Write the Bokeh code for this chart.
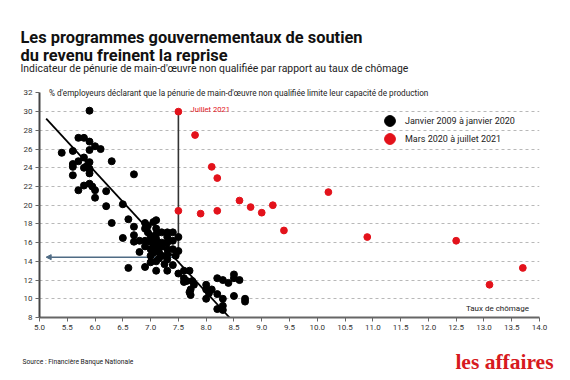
from bokeh.plotting import figure
from bokeh.layouts import column
from bokeh.models import Label, Arrow, NormalHead, FixedTicker, Legend, LegendItem
from bokeh.core.properties import value
from bokeh.embed import file_html
from bokeh.resources import INLINE

# ---- data ----
pre_x = [5.9, 5.4, 5.6, 5.7, 5.8, 5.9, 6.0, 6.1, 5.9, 5.6, 5.6, 5.7, 5.8, 5.85, 5.9, 5.8, 5.9,
         5.6, 5.9, 6.3, 6.7, 5.7, 5.8, 5.9, 6.0, 6.0, 5.95, 6.2, 6.2, 6.5, 6.3, 6.6, 6.5, 6.7,
         6.7, 6.7, 6.8, 6.8, 6.6, 6.9,
         6.9, 6.95, 7.05, 7.1, 6.9, 6.95, 7.0, 6.9, 7.0, 7.1, 7.1, 7.1, 7.1, 7.0, 7.1, 7.05, 7.15,
         7.0, 6.9, 7.05, 7.2, 7.2, 7.3, 7.4, 7.3, 7.3, 7.4, 7.2, 7.3, 7.4, 7.3, 7.2, 7.15, 7.3,
         7.4, 7.3, 7.5, 7.5, 7.0, 7.1, 7.1, 7.25, 7.45,
         7.5, 7.6, 7.7, 7.6, 7.65, 7.75, 7.78, 7.72, 7.72, 7.7, 7.6,
         8.0, 8.0, 8.0, 8.1, 8.05, 8.2, 8.3, 8.2, 8.3, 8.2, 8.3, 8.3, 8.4, 8.5, 8.5, 8.6, 8.7,
         8.7, 8.5]
pre_y = [30.1, 25.6, 25.8, 27.2, 27.2, 26.8, 26.3, 26.0, 25.9, 24.4, 24.1, 24.7, 25.1, 24.2, 24.6, 24.0, 23.9,
         23.2, 23.4, 24.7, 23.3, 21.6, 22.1, 22.3, 21.6, 20.8, 22.0, 21.5, 19.9, 20.1, 18.1, 18.5, 16.5, 17.7,
         16.8, 16.1, 16.2, 15.0, 13.3, 13.4,
         18.1, 17.8, 18.2, 18.4, 17.5, 17.1, 16.7, 16.2, 16.1, 17.5, 16.9, 16.4, 15.8, 15.3, 15.3, 14.9, 15.0,
         14.6, 15.6, 15.8, 16.0, 17.1, 17.1, 17.1, 16.6, 16.0, 16.2, 15.6, 15.3, 15.3, 14.7, 14.6, 14.3, 14.2,
         13.6, 13.0, 16.6, 15.1, 13.9, 14.0, 13.0, 13.7, 14.6,
         12.7, 13.0, 13.0, 11.8, 11.9, 11.9, 11.5, 11.0, 10.4, 10.7, 12.2,
         11.5, 11.0, 10.0, 11.0, 10.6, 12.2, 12.0, 10.5, 10.0, 8.9, 9.25, 8.8, 11.7, 12.6, 10.3, 12.0, 10.0,
         9.7, 12.2]

post_x = [7.5, 7.8, 8.1, 8.2, 7.5, 7.9, 8.2, 8.6, 8.8, 9.0, 9.2, 9.4, 10.2, 10.9, 12.5, 13.1, 13.7]
post_y = [30.0, 27.5, 24.1, 22.9, 19.4, 19.1, 19.4, 20.5, 19.8, 19.2, 20.0, 17.3, 21.4, 16.6, 16.2, 11.5, 13.3]

trend_x = [5.12, 8.42]
trend_y = [29.25, 8.0]

july_x = [7.5, 7.5]
july_y = [30.0, 14.45]
arrow_from = (7.5, 14.45)
arrow_to = (5.12, 14.45)

x_ticks = [5.0, 5.5, 6.0, 6.5, 7.0, 7.5, 8.0, 8.5, 9.0, 9.5, 10.0, 10.5, 11.0, 11.5, 12.0, 12.5,
           13.0, 13.5, 14.0]
x_tick_labels = ["5.0", "5.5", "6.0", "6.5", "7.0", "7.5", "8.0", "8.5", "9.0", "9.5", "10.0", "10.5",
                 "11.0", "11.5", "12.0", "12.5", "13.0", "13.5", "14.0"]
y_ticks = [8, 10, 12, 14, 16, 18, 20, 22, 24, 26, 28, 30, 32]
grid_ticks = [10, 12, 14, 16, 18, 20, 22, 24, 26, 28, 30]

series_names = ["Janvier 2009 à janvier 2020", "Mars 2020 à juillet 2021"]

title_lines = ["Les programmes gouvernementaux de soutien", "du revenu freinent la reprise"]
subtitle = "Indicateur de pénurie de main-d'œuvre non qualifiée par rapport au taux de chômage"
y_title = "% d'employeurs déclarant que la pénurie de main-d'œuvre non qualifiée limite leur capacité de production"
x_title = "Taux de chômage"
source = "Source : Financière Banque Nationale"
logo = "les affaires"

BLACK = "#000000"
RED = "#e3121b"
FONT = "Roboto"
W = 570

def blank(height):
    f = figure(width=W, height=height, x_range=(0, W), y_range=(height, 0),
               x_axis_type=None, y_axis_type=None, output_backend="svg", toolbar_location=None,
               min_border=0)
    f.outline_line_color = None
    f.grid.visible = False
    f.background_fill_color = "white"
    f.border_fill_color = "white"
    return f

# ---- header ----
header = blank(84)
header.text(x=[20, 20], y=[37.3, 55.0], text=title_lines, text_font=value(FONT),
            text_font_style="bold", text_font_size="16.4px", text_color="#111111",
            text_baseline="alphabetic")
header.text(x=[20], y=[68.3], text=[subtitle], text_font=value(FONT), text_font_size="10.4px",
            text_color="#222222", text_baseline="alphabetic")

# ---- main chart ----
p = figure(width=W, height=255, x_range=(5, 14), y_range=(8, 32.9),
           output_backend="svg", toolbar_location=None,
           min_border_left=39, min_border_right=31, min_border_top=0, min_border_bottom=22)
p.outline_line_color = None
p.background_fill_color = "white"
p.border_fill_color = "white"

p.xgrid.visible = False
p.ygrid.ticker = FixedTicker(ticks=grid_ticks)
p.ygrid.grid_line_color = "#b8b8b8"
p.ygrid.grid_line_dash = "3 3"
p.ygrid.grid_line_width = 1

p.xaxis.ticker = FixedTicker(ticks=x_ticks)
p.xaxis.major_label_overrides = {t: l for t, l in zip(x_ticks, x_tick_labels)}
p.yaxis.ticker = FixedTicker(ticks=y_ticks)
p.yaxis.bounds = (8, 32)
for ax in (p.xaxis, p.yaxis):
    ax.axis_line_color = "#666666"
    ax.axis_line_width = 2
    ax.major_tick_line_color = "#666666"
    ax.major_tick_out = 4
    ax.major_tick_in = 0
    ax.minor_tick_line_color = None
    ax.major_label_text_font = FONT
    ax.major_label_text_font_size = "8px"
    ax.major_label_text_color = "#333333"
    ax.major_label_standoff = 3
p.yaxis.axis_line_color = "#444444"

arrow = Arrow(end=NormalHead(size=5, fill_color="#4f6b84", line_color="#4f6b84"),
              x_start=arrow_from[0], y_start=arrow_from[1], x_end=arrow_to[0], y_end=arrow_to[1],
              line_color="#4f6b84", line_width=1.5, level="underlay")
p.add_layout(arrow)

p.line(trend_x, trend_y, line_color=BLACK, line_width=1.8)
p.line(july_x, july_y, line_color="#333333", line_width=1.6)

r_pre = p.scatter(pre_x, pre_y, size=7, color=BLACK)
r_post = p.scatter(post_x, post_y, size=6.8, color=RED)

for item_label, rend, loc in ((series_names[0], r_pre, (337, 183)),
                              (series_names[1], r_post, (337, 165))):
    lg = Legend(items=[LegendItem(label=item_label, renderers=[rend])],
                location=loc, padding=0, margin=0, spacing=0,
                glyph_width=27, glyph_height=27, label_height=27, label_standoff=2,
                label_text_font=FONT, label_text_font_size="9px", label_text_color="#222222",
                background_fill_alpha=0, border_line_color=None)
    p.add_layout(lg, "center")

p.add_layout(Label(x=5.17, y=32.0, text=y_title, text_font=FONT, text_font_size="8.2px",
                   text_color="#222222", text_baseline="middle"))
p.add_layout(Label(x=7.72, y=30.25, text="Juillet 2021", text_font=FONT, text_font_size="7.6px",
                   text_color=RED, text_baseline="middle"))
p.add_layout(Label(x=13.81, y=9.0, text=x_title, text_font=FONT, text_font_size="8px",
                   text_color="#222222", text_align="right", text_baseline="middle"))

# ---- footer ----
footer = blank(41)
footer.text(x=[22], y=[22], text=[source], text_font=value(FONT), text_font_size="6.7px",
            text_color="#222222", text_baseline="middle")
footer.text(x=[553], y=[22], text=[logo], text_font=value("Liberation Serif"),
            text_font_style="bold", text_font_size="21.5px", text_color="#d71920",
            text_align="right", text_baseline="middle")

layout = column(column(header), p, column(footer), spacing=0)
open("out.html", "w").write(file_html(layout, INLINE))
